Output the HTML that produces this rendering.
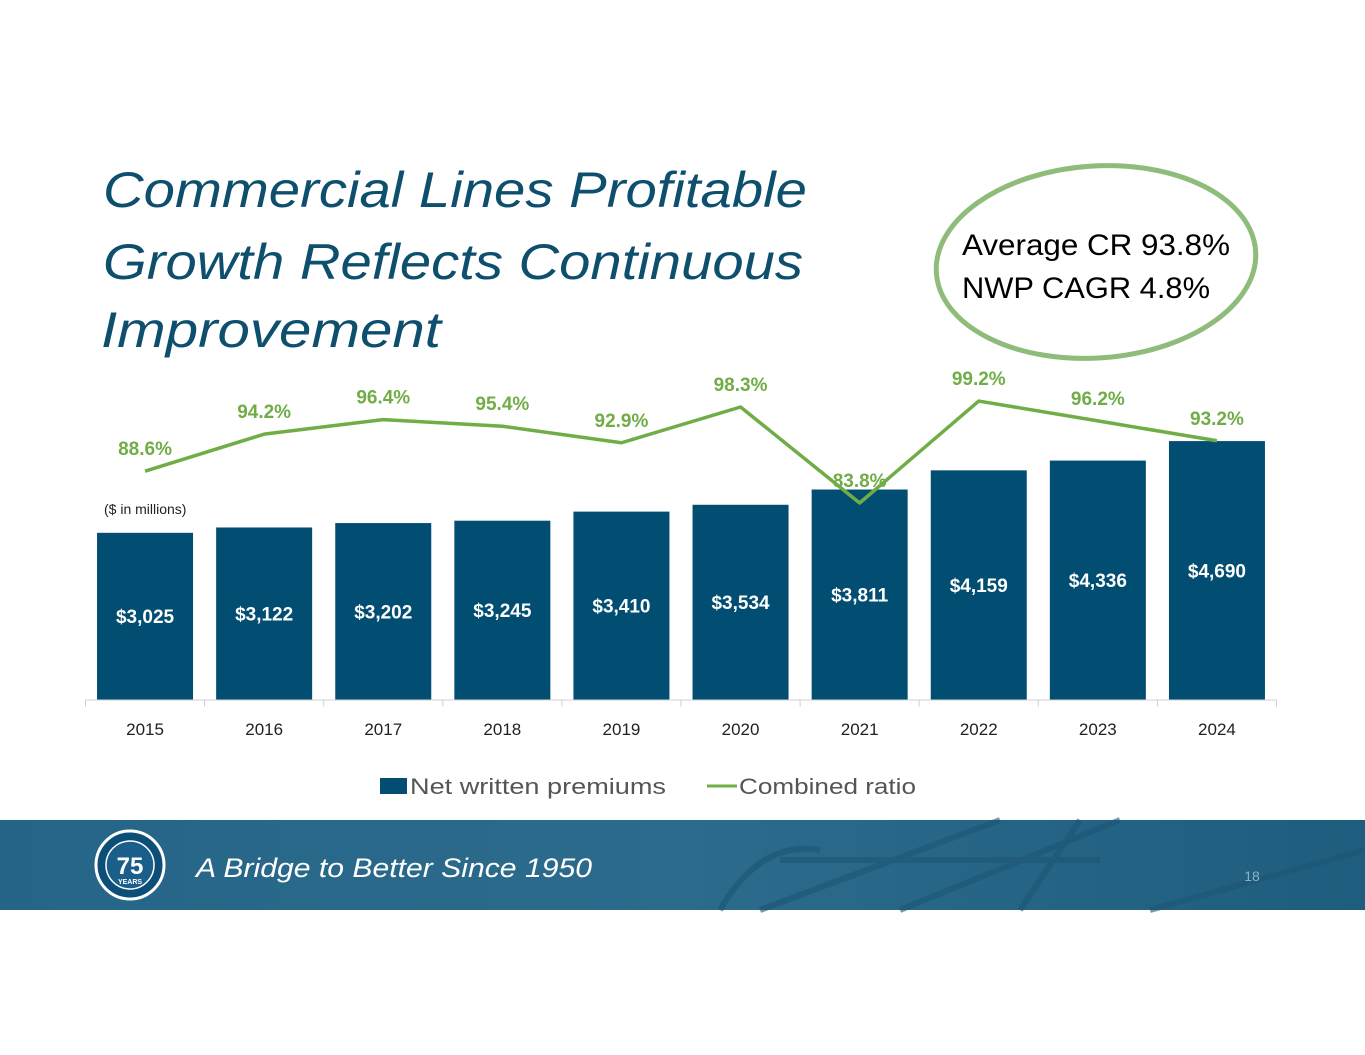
<!DOCTYPE html>
<html><head><meta charset="utf-8"><style>
html,body{margin:0;padding:0;background:#fff;}
svg{display:block;font-family:"Liberation Sans",sans-serif;}
</style></head><body>
<svg id="chart" width="1365" height="1055" viewBox="0 0 1365 1055" xmlns="http://www.w3.org/2000/svg">
<g fill="#0e4f6e" font-style="italic" font-size="50">
<text x="103" y="207" textLength="704" lengthAdjust="spacingAndGlyphs">Commercial Lines Profitable</text>
<text x="103" y="279" textLength="700" lengthAdjust="spacingAndGlyphs">Growth Reflects Continuous</text>
<text x="101" y="347" textLength="340" lengthAdjust="spacingAndGlyphs">Improvement</text>
</g>
<g>
<ellipse cx="1096" cy="262" rx="160" ry="96" fill="none" stroke="#8fbc7a" stroke-width="5" transform="rotate(-4 1096 262)"/>
<text x="962" y="255" font-size="30" fill="#000" textLength="268" lengthAdjust="spacingAndGlyphs">Average CR 93.8%</text>
<text x="962" y="298" font-size="30" fill="#000" textLength="248" lengthAdjust="spacingAndGlyphs">NWP CAGR 4.8%</text>
</g>
<text x="104" y="514" font-size="14" fill="#222">($ in millions)</text>
<g id="bars"></g>
<g id="axis"></g>
<g id="line"></g>
<g>
<rect x="380" y="778" width="27" height="16" fill="#024d72"/>
<text x="410" y="794" font-size="22" fill="#555" textLength="256" lengthAdjust="spacingAndGlyphs">Net written premiums</text>
<line x1="707" y1="786" x2="737" y2="786" stroke="#70ad47" stroke-width="3"/>
<text x="739" y="794" font-size="22" fill="#555" textLength="177" lengthAdjust="spacingAndGlyphs">Combined ratio</text>
</g>
<g>
<defs><linearGradient id="fg" x1="0" x2="1"><stop offset="0" stop-color="#256587"/><stop offset="0.5" stop-color="#2c6b8c"/><stop offset="1" stop-color="#1f5d7e"/></linearGradient></defs>
<rect x="0" y="820" width="1365" height="90" fill="url(#fg)"/>
<g stroke="#1c5574" stroke-width="6" opacity="0.6" fill="none">
<path d="M760 910 L1000 820 M900 910 L1120 820 M1150 910 L1365 850 M780 860 L1100 860 M1020 910 L1080 820"/>
<path d="M720 910 Q760 840 820 850" />
</g>
<circle cx="130" cy="865" r="34" fill="#0b4f78" stroke="#fff" stroke-width="3"/>
<circle cx="130" cy="865" r="24" fill="#1a5f8a" stroke="#fff" stroke-width="1.5"/>
<text x="130" y="874" font-size="24" font-weight="bold" fill="#fff" text-anchor="middle">75</text>
<text x="130" y="884" font-size="7" font-weight="bold" fill="#fff" text-anchor="middle">YEARS</text>
<text x="196" y="877" font-size="27" font-style="italic" fill="#fff" textLength="396" lengthAdjust="spacingAndGlyphs">A Bridge to Better Since 1950</text>
<text x="1252" y="881" font-size="14" fill="#8fb0c4" text-anchor="middle">18</text>
</g>
</svg>
<script>
const years = ["2015","2016","2017","2018","2019","2020","2021","2022","2023","2024"];
const nwp = [3025,3122,3202,3245,3410,3534,3811,4159,4336,4690];
const nwpLabels = ["$3,025","$3,122","$3,202","$3,245","$3,410","$3,534","$3,811","$4,159","$4,336","$4,690"];
const cr = [88.6,94.2,96.4,95.4,92.9,98.3,83.8,99.2,96.2,93.2];
const crLabels = ["88.6%","94.2%","96.4%","95.4%","92.9%","98.3%","83.8%","99.2%","96.2%","93.2%"];

const NS="http://www.w3.org/2000/svg";
const x0=85.5, cw=119.1, base=699.5;
const xc=i=>x0+cw*(i+0.5);
const yBar=v=>base-v*0.0551;
const yLine=v=>503-(v-83.8)*6.62;
function mk(tag,attrs,parent){const e=document.createElementNS(NS,tag);for(const k in attrs)e.setAttribute(k,attrs[k]);parent.appendChild(e);return e;}
const gb=document.getElementById('bars'),ga=document.getElementById('axis'),gl=document.getElementById('line');
years.forEach((y,i)=>{
  const top=yBar(nwp[i]);
  const r=mk('rect',{x:xc(i)-48,y:top,width:96,height:base-top,fill:'#024d72'},gb);
  
  
  const t=mk('text',{x:xc(i),y:(top+base)/2+7,'font-size':19,'font-weight':'bold',fill:'#fff','text-anchor':'middle'},gb);
  t.textContent=nwpLabels[i];
  
  
  const xl=mk('text',{x:xc(i),y:735,'font-size':17,fill:'#222','text-anchor':'middle'},ga);
  xl.textContent=y;
  
  
});
const al=mk('line',{x1:x0,y1:base+0.5,x2:x0+cw*10,y2:base+0.5,stroke:'#d0d0d0','stroke-width':1},ga);


for(let i=0;i<=10;i++){
  const tk=mk('line',{x1:x0+cw*i,y1:base,x2:x0+cw*i,y2:base+7,stroke:'#d0d0d0'},ga);
  
  
}
const pl=mk('polyline',{points:cr.map((v,i)=>xc(i)+','+yLine(v)).join(' '),fill:'none',stroke:'#70ad47','stroke-width':3.5,'stroke-linejoin':'round'},gl);


cr.forEach((v,i)=>{
  const t=mk('text',{x:xc(i),y:yLine(v)-16,'font-size':19,'font-weight':'bold',fill:'#70ad47','text-anchor':'middle'},gl);
  t.textContent=crLabels[i];
  
  
});
</script>
</body></html>
